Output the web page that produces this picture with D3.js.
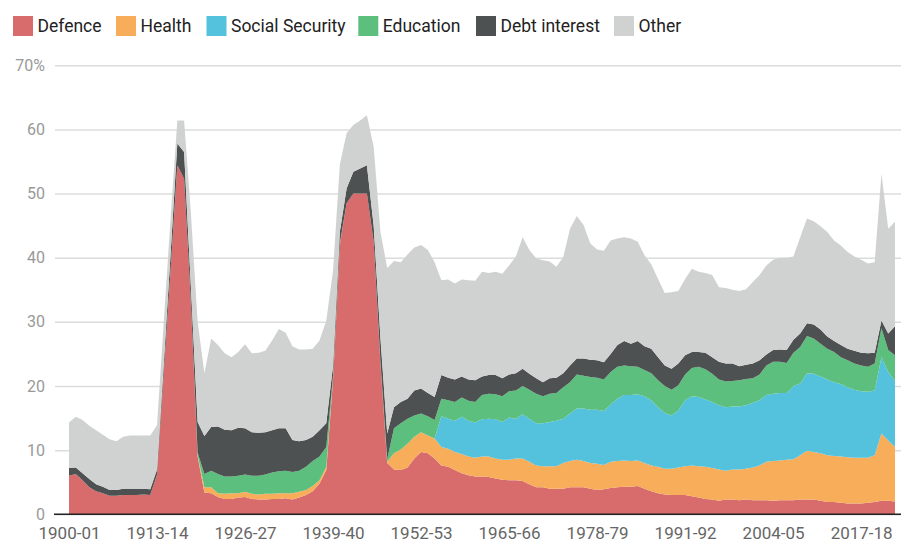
<!DOCTYPE html>
<html>
<head>
<meta charset="utf-8">
<script src="https://cdn.jsdelivr.net/npm/d3@7"></script>
<style>
  body { margin: 0; background: #fff; }
  svg { display: block; font-family: Roboto, "Noto Sans", sans-serif; }
</style>
</head>
<body>
<div id="chart-area"></div>
<script>
// Data (share of GDP, %)
const startYear = 1900;
const yearCount = 123;
const years = d3.range(yearCount).map(i => {
    const y = startYear + i;
    return `${y}-${String((y + 1) % 100).padStart(2, "0")}`;
});

const tickLabels = ["1900-01", "1913-14", "1926-27", "1939-40", "1952-53",
                    "1965-66", "1978-79", "1991-92", "2004-05", "2017-18"];
const yTicks = [0, 10, 20, 30, 40, 50, 60, 70];

const seriesNames = ["Defence", "Health", "Social Security", "Education", "Debt interest", "Other"];
const seriesColors = ["#d86b6b", "#f8ad5b", "#54c2dd", "#5cbf7d", "#4e5152", "#d0d1d1"];

const defence = [
    6.0, 6.3, 5.3, 4.2, 3.6, 3.3, 2.9, 2.9, 3.0, 3.0,
    3.0, 3.1, 3.0, 6.2, 22.0, 38.0, 54.4, 52.3, 33.0, 9.0,
    3.4, 3.3, 2.7, 2.4, 2.4, 2.6, 2.7, 2.4, 2.3, 2.3,
    2.4, 2.4, 2.5, 2.3, 2.6, 3.0, 3.6, 4.8, 6.9, 21.0,
    42.0, 48.5, 50.0, 50.0, 50.0, 42.5, 23.5, 8.0, 7.0, 6.9,
    7.3, 8.7, 9.7, 9.5, 8.7, 7.6, 7.4, 6.9, 6.4, 6.1,
    5.9, 5.9, 5.8, 5.6, 5.4, 5.3, 5.3, 5.2, 4.7, 4.2,
    4.2, 4.0, 4.0, 4.0, 4.2, 4.2, 4.2, 4.0, 3.8, 3.9,
    4.1, 4.2, 4.3, 4.3, 4.4, 4.0, 3.6, 3.3, 3.1, 3.0,
    3.0, 3.0, 2.8, 2.6, 2.4, 2.3, 2.1, 2.3, 2.3, 2.2,
    2.3, 2.2, 2.2, 2.2, 2.1, 2.2, 2.2, 2.2, 2.3, 2.3,
    2.3, 2.1, 1.9, 1.9, 1.8, 1.7, 1.7, 1.7, 1.8, 1.9,
    2.1, 2.1, 2.0
];
const health = [
    0, 0, 0, 0, 0, 0, 0, 0, 0, 0,
    0, 0, 0, 0, 0, 0, 0, 0, 0, 0.2,
    0.8, 0.9, 0.6, 0.8, 0.9, 0.7, 0.8, 0.8, 0.8, 0.9,
    0.8, 0.9, 0.8, 1.0, 0.9, 0.8, 0.8, 0.5, 0.5, 0.2,
    0.1, 0, 0, 0, 0, 0, 0.1, 0.2, 2.5, 3.2,
    3.7, 3.4, 3.1, 2.8, 3.1, 2.9, 2.8, 2.8, 3.0, 2.9,
    2.9, 3.1, 3.2, 3.1, 3.1, 3.2, 3.4, 3.5, 3.5, 3.4,
    3.3, 3.5, 3.5, 4.0, 4.1, 4.3, 4.1, 4.0, 4.1, 3.8,
    4.1, 4.1, 4.1, 4.0, 4.0, 4.0, 4.0, 4.1, 4.0, 4.1,
    4.3, 4.5, 4.8, 4.9, 5.0, 4.9, 4.9, 4.5, 4.7, 4.8,
    4.8, 5.1, 5.4, 6.0, 6.2, 6.2, 6.3, 6.4, 6.9, 7.6,
    7.4, 7.4, 7.3, 7.2, 7.2, 7.2, 7.1, 7.1, 7.0, 7.3,
    10.5, 9.4, 8.5
];
const socialSecurity = [
    0, 0, 0, 0, 0, 0, 0, 0, 0, 0,
    0, 0, 0, 0, 0, 0, 0, 0, 0, 0,
    0, 0, 0, 0, 0, 0, 0, 0, 0, 0,
    0, 0, 0, 0, 0, 0, 0, 0, 0, 0,
    0, 0, 0, 0, 0, 0, 0, 0, 0, 0,
    0, 0, 0, 0, 0, 4.8, 4.7, 4.9, 5.8, 5.6,
    5.5, 5.8, 5.9, 6.1, 5.9, 6.6, 6.2, 6.9, 6.7, 6.6,
    6.7, 6.9, 7.1, 6.9, 7.4, 8.0, 8.2, 8.3, 8.4, 8.4,
    8.9, 9.7, 10.2, 10.3, 10.3, 10.4, 10.2, 9.3, 8.7, 8.3,
    8.9, 10.3, 10.8, 10.8, 10.5, 10.3, 10.0, 9.9, 9.8, 9.8,
    9.9, 10.1, 10.2, 10.4, 10.5, 10.5, 10.4, 11.4, 11.2, 12.1,
    12.2, 12.0, 11.8, 11.5, 11.3, 10.9, 10.6, 10.4, 10.3, 10.1,
    11.9, 10.7, 10.3
];
const education = [
    0, 0, 0, 0, 0, 0, 0, 0, 0, 0,
    0, 0, 0, 0, 0, 0, 0, 0, 0, 0.4,
    2.1, 2.6, 3.0, 2.7, 2.6, 2.7, 2.7, 2.8, 2.9, 3.0,
    3.3, 3.4, 3.5, 3.3, 3.3, 3.6, 3.9, 3.7, 3.1, 0.4,
    0.1, 0, 0, 0, 0, 0, 0.2, 0.4, 3.9, 4.1,
    3.9, 3.3, 2.9, 3.0, 2.9, 2.7, 2.9, 2.9, 3.0, 3.1,
    3.2, 3.8, 3.9, 3.9, 4.0, 4.1, 4.4, 4.4, 4.5, 4.6,
    4.2, 4.4, 4.3, 4.9, 4.9, 5.3, 5.1, 5.1, 5.0, 4.9,
    5.1, 5.0, 4.6, 4.5, 4.3, 4.1, 4.2, 4.2, 4.2, 4.0,
    3.9, 4.0, 4.4, 4.7, 4.7, 4.4, 4.0, 4.0, 4.0, 4.1,
    4.1, 3.8, 4.0, 4.6, 5.0, 4.9, 4.7, 5.2, 5.7, 5.8,
    5.5, 5.1, 4.8, 4.7, 4.2, 4.2, 4.1, 4.0, 3.9, 4.2,
    4.5, 3.4, 4.0
];
const debtInterest = [
    1.2, 1.0, 1.1, 1.3, 1.1, 1.0, 0.9, 0.9, 1.0, 1.0,
    1.0, 0.9, 0.9, 0.8, 1.5, 2.5, 3.4, 4.2, 2.5, 4.8,
    5.9, 6.8, 7.4, 7.3, 7.2, 7.5, 7.2, 6.8, 6.7, 6.6,
    6.6, 6.7, 6.6, 5.0, 4.6, 4.2, 3.8, 4.1, 3.7, 1.6,
    1.8, 2.3, 3.4, 3.9, 4.4, 2.5, 3.7, 4.0, 3.3, 3.3,
    3.1, 3.9, 3.9, 3.6, 3.6, 3.7, 3.5, 3.5, 3.3, 3.3,
    3.4, 2.9, 2.9, 3.0, 2.8, 2.6, 2.7, 2.7, 2.5, 2.4,
    2.2, 2.4, 2.4, 2.2, 2.6, 2.5, 2.7, 2.7, 2.7, 2.7,
    2.8, 3.4, 3.8, 3.5, 4.0, 3.7, 3.8, 3.6, 3.2, 3.3,
    3.4, 3.0, 2.5, 2.3, 2.6, 2.6, 2.8, 2.8, 2.7, 2.2,
    2.2, 2.3, 2.2, 1.7, 1.8, 1.9, 2.0, 2.0, 2.1, 2.0,
    2.2, 2.2, 1.9, 1.7, 1.9, 1.8, 2.0, 2.0, 2.1, 1.7,
    1.2, 2.6, 4.5
];
const other = [
    7.1, 7.9, 8.3, 8.3, 8.4, 8.1, 7.9, 7.6, 8.1, 8.3,
    8.3, 8.3, 8.4, 6.9, 6.5, 5.5, 3.6, 4.9, 11.5, 15.6,
    9.8, 13.8, 12.7, 11.9, 11.4, 11.8, 13.1, 12.3, 12.5, 12.7,
    14.0, 15.5, 14.9, 14.6, 14.3, 14.1, 13.7, 14.0, 16.0, 14.8,
    10.5, 8.6, 7.3, 7.5, 7.8, 12.3, 16.5, 25.8, 22.8, 21.8,
    22.5, 22.3, 22.4, 22.3, 21.0, 14.8, 15.3, 15.0, 15.1, 15.5,
    15.5, 16.3, 15.9, 16.1, 16.3, 17.0, 18.2, 20.5, 19.3, 18.7,
    19.0, 18.2, 17.3, 18.1, 21.3, 22.2, 20.8, 18.1, 17.3, 17.4,
    17.7, 16.6, 16.2, 16.4, 15.5, 14.2, 13.2, 12.2, 11.3, 11.9,
    11.3, 11.9, 13.0, 12.5, 12.4, 12.8, 11.6, 11.8, 11.5, 11.7,
    11.8, 12.7, 13.3, 13.9, 14.1, 14.3, 14.4, 13.0, 15.0, 16.3,
    16.1, 16.1, 16.3, 15.7, 15.5, 15.1, 14.7, 14.5, 14.0, 14.1,
    22.9, 16.3, 16.3
];

const seriesValues = [defence, health, socialSecurity, education, debtInterest, other];

const table = years.map((yr, i) => {
    const row = { year: yr };
    seriesNames.forEach((name, k) => { row[name] = seriesValues[k][i]; });
    return row;
});

/* SVG */
const W = 901, H = 542;
const plot = { left: 69, right: 895, top: 65.3, bottom: 514.3 };

const svg = d3.select("#chart-area")
    .append("svg")
    .attr("width", W)
    .attr("height", H);

/* Scales */
const xScale = d3.scalePoint()
    .domain(years)
    .range([plot.left, plot.right]);

const yScale = d3.scaleLinear()
    .domain([0, 70])
    .range([plot.bottom, plot.top]);

/* Y axis + grid */
const gridLeft = 55;
const yAxis = svg.append("g")
    .attr("transform", `translate(${gridLeft},0)`)
    .call(d3.axisLeft(yScale)
        .tickValues(yTicks)
        .tickSize(-(W - gridLeft))
        .tickPadding(10)
        .tickFormat(d => d === 70 ? "70%" : d));
yAxis.select(".domain").remove();
yAxis.selectAll(".tick line")
    .attr("stroke", "#dcdcdc")
    .attr("stroke-width", 1.5);
yAxis.selectAll(".tick text")
    .attr("fill", "#999")
    .attr("font-size", 16)
    .attr("font-family", "Roboto, sans-serif");

/* Areas */
const stack = d3.stack().keys(seriesNames);
const layers = stack(table);

const area = d3.area()
    .x(d => xScale(d.data.year))
    .y0(d => yScale(d[0]))
    .y1(d => yScale(d[1]));

svg.append("g")
    .selectAll("path")
    .data(layers)
    .join("path")
    .attr("fill", (d, i) => seriesColors[i])
    .attr("d", area);

/* X axis */
const xAxis = svg.append("g")
    .attr("transform", `translate(0,${plot.bottom})`)
    .call(d3.axisBottom(xScale)
        .tickValues(tickLabels)
        .tickSize(0)
        .tickPadding(13));
xAxis.select(".domain").remove();
xAxis.selectAll(".tick text")
    .attr("fill", "#666")
    .attr("font-size", 17)
    .attr("font-family", "Roboto, sans-serif");

svg.append("line")
    .attr("x1", 54).attr("x2", W)
    .attr("y1", plot.bottom).attr("y2", plot.bottom)
    .attr("stroke", "#222")
    .attr("stroke-width", 1.5);

/* Legend */
const legendX = [13, 116, 206.5, 358.3, 476, 614];
const legend = svg.append("g").attr("transform", "translate(0,16)");
const items = legend.selectAll("g")
    .data(seriesNames)
    .join("g")
    .attr("transform", (d, i) => `translate(${legendX[i]},0)`);
items.append("rect")
    .attr("width", 20).attr("height", 20)
    .attr("fill", (d, i) => seriesColors[i]);
items.append("text")
    .attr("x", 24.5).attr("y", 10)
    .attr("dominant-baseline", "central")
    .attr("font-size", 17.5)
    .attr("fill", "#222")
    .text(d => d);
</script>
</body>
</html>
